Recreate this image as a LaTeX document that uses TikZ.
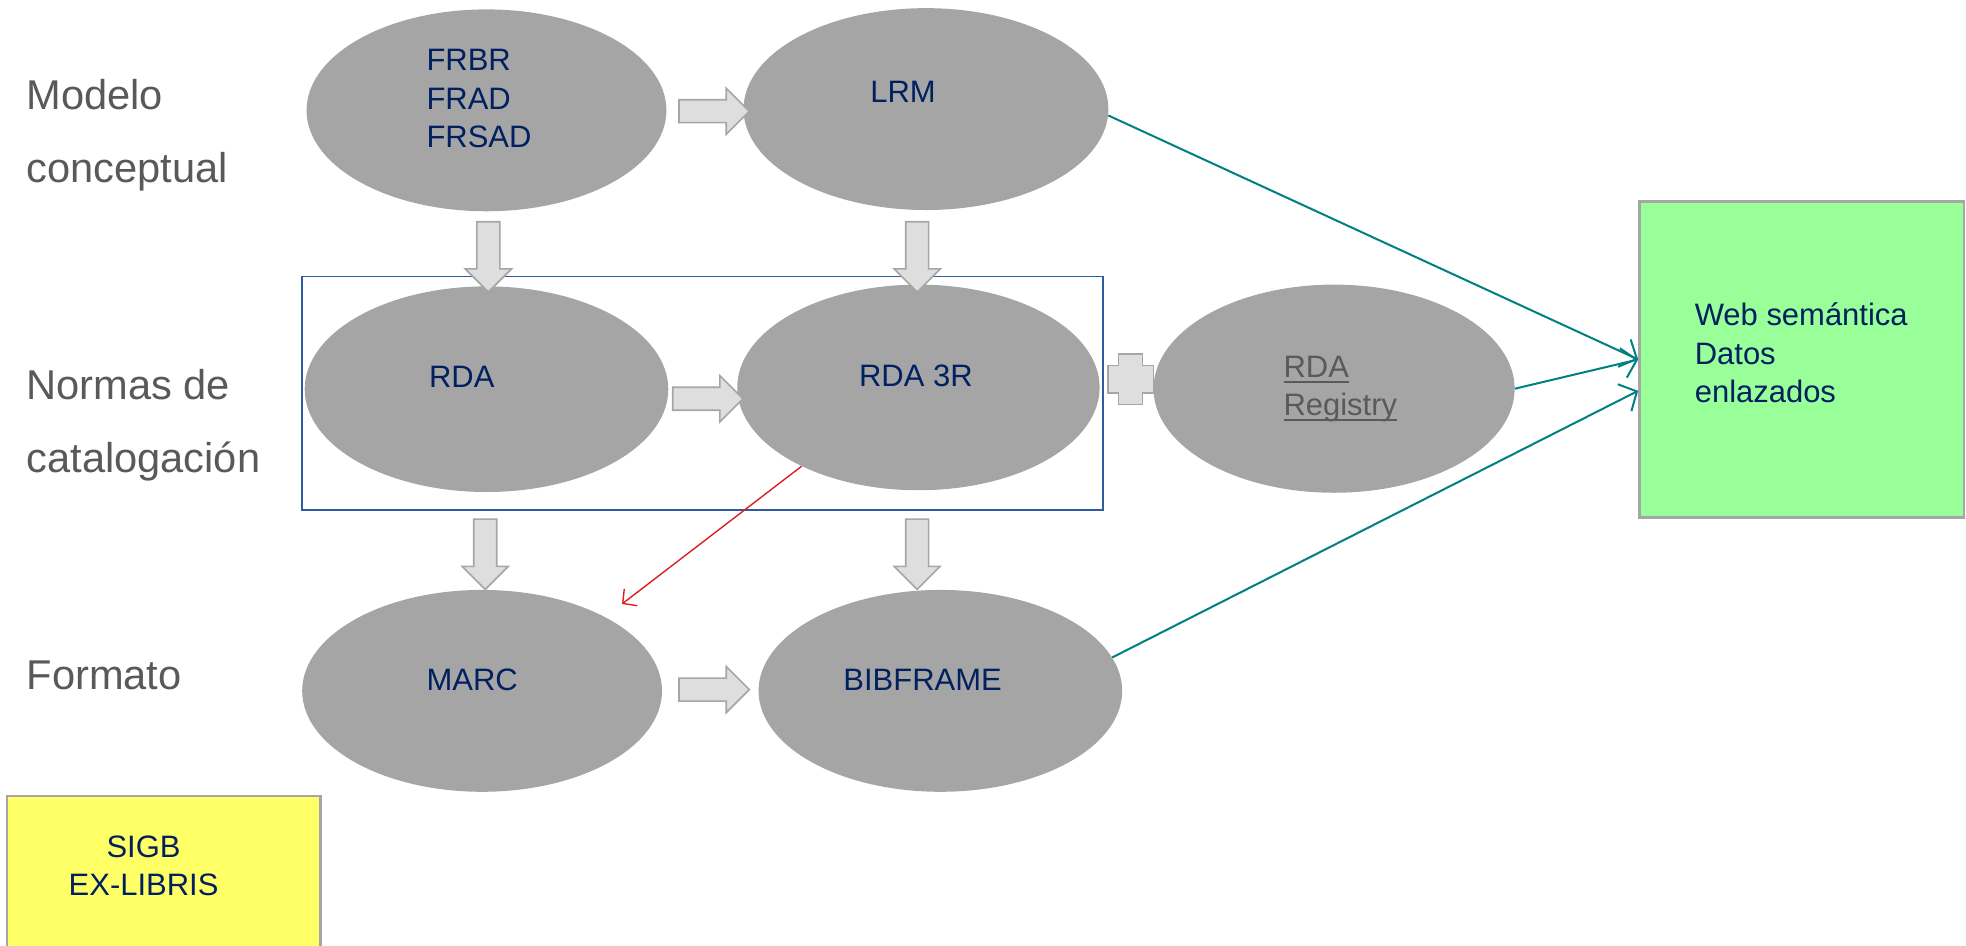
\documentclass[tikz,border=0pt]{standalone}
\usepackage{fontspec}
\setmainfont{Liberation Sans}
\usepackage{tikz}
\usetikzlibrary{shapes.geometric,shapes.arrows,arrows.meta}

\definecolor{ellgray}{HTML}{A5A5A5}
\definecolor{navytext}{HTML}{002060}
\definecolor{labgray}{HTML}{595959}
\definecolor{regtext}{HTML}{5A5A5A}
\definecolor{arrfill}{HTML}{DEDEDE}
\definecolor{arrline}{HTML}{A6A6A6}
\definecolor{frameblue}{HTML}{2E5C9E}
\definecolor{webgreen}{HTML}{99FF99}
\definecolor{sigbyellow}{HTML}{FFFF66}
\definecolor{linkteal}{HTML}{008080}
\definecolor{linkred}{HTML}{DA1E1E}
\newcommand{\ulword}[1]{\setbox0\hbox{#1}\rlap{\rule[-4.3pt]{\wd0}{1.1pt}}#1}

\begin{document}
\begin{tikzpicture}[x=1pt,y=-1pt,
	bubble/.style={ellipse,fill=ellgray,inner sep=0pt},
	intext/.style={text=navytext,font=\fontsize{24.7}{30.5}\selectfont,inner sep=0pt,align=left},
	rowlabel/.style={text=labgray,font=\fontsize{33.2}{58}\selectfont,inner sep=0pt,align=left},
	blockarr/.style={single arrow,draw=arrline,fill=arrfill,line width=1.3pt,inner sep=8.5pt,
		single arrow head extend=9.25pt,minimum height=56pt},
	colorbox/.style={rectangle,draw=arrline,line width=2pt,inner sep=0pt},
	link/.style={draw=linkteal,line width=1.6pt,-{Straight Barb[length=11pt,width=24pt]}},
	redlink/.style={draw=linkred,line width=1.1pt,-{Straight Barb[length=8pt,width=17pt]}}]
\useasboundingbox (0,0) rectangle (1568,754);

% row labels
\node[rowlabel,anchor=north west] (lab-modelo) at (21,63) {Modelo\\conceptual};
\node[rowlabel,anchor=north west] (lab-normas) at (21,294.4) {Normas de\\catalogación};
\node[rowlabel,anchor=base west] (lab-formato) at (21,550.3) {Formato};

% ellipses
\node[bubble,minimum width=287,minimum height=161] (frbr) at (388,88) {};
\node[bubble,minimum width=291,minimum height=161] (lrm) at (738.5,87) {};
\node[bubble,minimum width=290,minimum height=164] (rda) at (388,310.4) {};
\node[bubble,minimum width=289,minimum height=164] (rda3r) at (732.5,309) {};
\node[bubble,minimum width=288,minimum height=166] (reg) at (1064,310) {};
\node[bubble,minimum width=287,minimum height=161] (marc) at (384.5,551) {};
\node[bubble,minimum width=290,minimum height=161] (bib) at (750,551) {};

\draw[frameblue,line width=1.4pt] (241,220.5) rectangle (879.5,406.5);

\node[intext,anchor=north west] (frbr-t) at (340,39.4) {FRBR\\FRAD\\FRSAD};
\node[intext,anchor=base west] (lrm-t) at (694,81.8) {LRM};
\node[intext,anchor=base west] (rda-t) at (342,309) {RDA};
\node[intext,anchor=base west] (rda3r-t) at (685,308.5) {RDA 3R};
\node[intext,text=regtext,anchor=north west] (reg-t) at (1023.5,283.6) {\ulword{RDA}\\\ulword{Registry}};
\node[intext,anchor=base west] (marc-t) at (340,551) {MARC};
\node[intext,anchor=base west] (bib-t) at (672.5,551) {BIBFRAME};

% boxes
\node[colorbox,fill=webgreen,minimum width=259,minimum height=252] (web) at (1437,286.7) {};
\node[intext,anchor=north west] (web-t) at (1351.5,241.5) {Web semántica\\Datos\\enlazados};
\node[colorbox,fill=sigbyellow,minimum width=250,minimum height=160,anchor=north west] (sigb) at (4.5,634) {};
\node[intext,align=center,anchor=north] (sigb-t) at (114.5,666.5) {SIGB\\EX-LIBRIS};

% block arrows
\node[blockarr] (ar-top) at (565,88.7) {};
\node[blockarr] (ar-mid) at (560,318) {};
\node[blockarr] (ar-bot) at (565,550) {};
\node[blockarr,rotate=-90] (ad-frbr) at (389.5,200.3) {};
\node[blockarr,rotate=-90] (ad-lrm) at (731.5,200.3) {};
\node[blockarr,rotate=-90] (ad-rda) at (387,437.5) {};
\node[blockarr,rotate=-90] (ad-rda3r) at (731.5,437.5) {};
\draw[draw=arrline,fill=arrfill,line width=1.3pt,shift={(901.7,302.5)}]
	(-9.5,-20) -- (9.5,-20) -- (9.5,-11) -- (18.25,-11) -- (18.25,11) -- (9.5,11)
	-- (9.5,20) -- (-9.5,20) -- (-9.5,11) -- (-18.25,11) -- (-18.25,-11) -- (-9.5,-11) -- cycle;

% links
\draw[link] (lrm.-2) -- (web.west);
\draw[link] (reg.east) -- (web.west);
\draw[link] (bib.11) -- ([yshift=-25pt]web.west);
\draw[redlink,shorten >=17pt] (rda3r.214) -- (marc.31);
\end{tikzpicture}
\end{document}
